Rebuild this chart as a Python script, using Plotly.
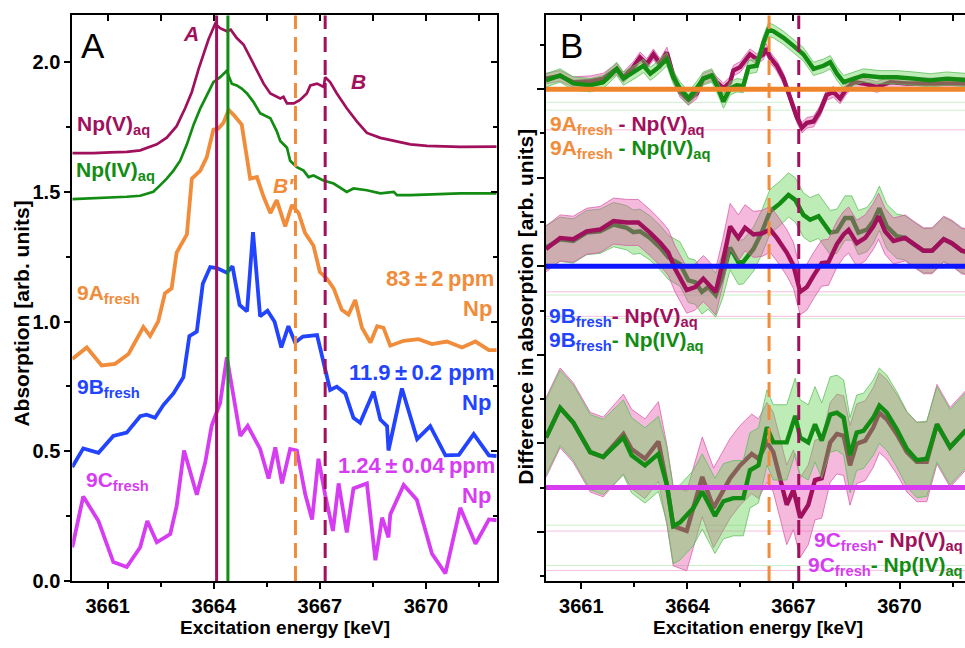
import plotly.graph_objects as go

# ---------------- Panel A data (energy in keV, absorption in arb. units) -------------
E_NpV = [3660.00, 3660.60, 3661.07, 3661.54, 3661.92, 3662.39, 3662.67, 3662.95, 3663.19, 3663.38,
         3663.57, 3663.72, 3663.85, 3664.04, 3664.18, 3664.37, 3664.48, 3664.65, 3664.84, 3665.03,
         3665.22, 3665.41, 3665.60, 3665.88, 3665.97, 3666.07, 3666.26, 3666.44, 3666.63, 3666.73,
         3666.92, 3667.11, 3667.15, 3667.29, 3667.48, 3667.76, 3668.05, 3668.33, 3668.71, 3669.09,
         3669.56, 3670.03, 3670.97, 3672.00]
A_NpV = [1.649, 1.649, 1.652, 1.654, 1.660, 1.683, 1.709, 1.753, 1.822, 1.885,
         1.973, 2.036, 2.087, 2.148, 2.131, 2.119, 2.125, 2.093, 2.068, 2.018,
         1.967, 1.917, 1.879, 1.860, 1.866, 1.841, 1.841, 1.854, 1.879, 1.910,
         1.917, 1.904, 1.942, 1.923, 1.879, 1.822, 1.771, 1.727, 1.708, 1.696,
         1.683, 1.677, 1.673, 1.674]

E_NpIV = [3660.00, 3660.60, 3661.07, 3661.54, 3661.92, 3662.29, 3662.48, 3662.67, 3662.86, 3663.05,
          3663.24, 3663.43, 3663.62, 3663.80, 3663.99, 3664.18, 3664.37, 3664.42, 3664.51, 3664.65,
          3664.79, 3664.94, 3665.12, 3665.31, 3665.60, 3665.78, 3665.88, 3666.07, 3666.16, 3666.35,
          3666.54, 3666.68, 3666.82, 3667.10, 3667.39, 3667.76, 3667.95, 3668.33, 3668.71, 3669.09,
          3669.18, 3669.56, 3670.03, 3670.97, 3672.00]
A_NpIV = [1.472, 1.475, 1.477, 1.481, 1.485, 1.500, 1.525, 1.551, 1.582, 1.620,
          1.683, 1.759, 1.822, 1.873, 1.923, 1.942, 1.967, 1.948, 1.917, 1.910,
          1.898, 1.879, 1.847, 1.803, 1.784, 1.734, 1.696, 1.670, 1.620, 1.595,
          1.582, 1.557, 1.563, 1.544, 1.532, 1.500, 1.513, 1.506, 1.494, 1.500,
          1.487, 1.487, 1.490, 1.494, 1.494]

E_9A = [3660.00, 3660.41, 3660.83, 3661.21, 3661.59, 3662.01, 3662.20, 3662.43, 3662.62, 3662.81,
        3662.95, 3663.24, 3663.38, 3663.62, 3663.80, 3663.99, 3664.13, 3664.27, 3664.42, 3664.56,
        3664.79, 3665.03, 3665.22, 3665.41, 3665.60, 3665.78, 3666.02, 3666.21, 3666.40, 3666.58,
        3666.82, 3667.00, 3667.20, 3667.39, 3667.62, 3667.81, 3668.00, 3668.19, 3668.43, 3668.62,
        3668.80, 3668.99, 3669.37, 3669.79, 3670.17, 3670.59, 3671.02, 3671.40, 3671.78, 3672.00]
A_9A = [0.856, 0.900, 0.831, 0.837, 0.875, 0.979, 0.944, 1.001, 1.109, 1.128,
        1.266, 1.336, 1.551, 1.582, 1.633, 1.740, 1.744, 1.765, 1.816, 1.797,
        1.759, 1.551, 1.557, 1.481, 1.418, 1.468, 1.367, 1.449, 1.418, 1.342,
        1.292, 1.191, 1.165, 1.128, 1.045, 1.027, 1.083, 0.976, 0.919, 0.982,
        0.976, 0.907, 0.926, 0.932, 0.913, 0.923, 0.900, 0.923, 0.890, 0.890]

E_9B = [3660.00, 3660.31, 3660.74, 3661.16, 3661.54, 3661.92, 3662.10, 3662.34, 3662.58, 3662.86,
        3663.14, 3663.31, 3663.52, 3663.69, 3663.90, 3664.09, 3664.37, 3664.53, 3664.73, 3664.94,
        3665.11, 3665.31, 3665.52, 3665.72, 3665.91, 3666.11, 3666.30, 3666.52, 3666.92, 3667.15,
        3667.29, 3667.48, 3667.72, 3667.95, 3668.14, 3668.52, 3668.71, 3668.90, 3668.94, 3669.32,
        3669.75, 3670.12, 3670.55, 3670.93, 3671.35, 3671.78, 3672.00]
A_9B = [0.439, 0.511, 0.494, 0.559, 0.572, 0.635, 0.641, 0.629, 0.679, 0.723,
        0.785, 0.944, 0.961, 1.146, 1.210, 1.206, 1.188, 1.213, 1.064, 1.039,
        1.345, 1.020, 1.042, 0.999, 0.900, 0.982, 0.919, 0.942, 0.948, 0.818,
        0.736, 0.749, 0.723, 0.629, 0.610, 0.730, 0.622, 0.597, 0.503, 0.742,
        0.547, 0.597, 0.484, 0.486, 0.566, 0.484, 0.481]

E_9C = [3660.00, 3660.31, 3660.74, 3661.16, 3661.54, 3661.92, 3662.12, 3662.39, 3662.77, 3662.95,
        3663.16, 3663.52, 3663.76, 3663.94, 3664.18, 3664.37, 3664.56, 3664.75, 3664.96, 3665.31,
        3665.55, 3665.74, 3665.93, 3666.16, 3666.35, 3666.59, 3666.78, 3666.96, 3667.15, 3667.37,
        3667.53, 3667.76, 3667.95, 3668.33, 3668.57, 3668.76, 3668.94, 3668.99, 3669.37, 3669.74,
        3670.17, 3670.55, 3670.97, 3671.40, 3671.78, 3672.00]
A_9C = [0.130, 0.326, 0.231, 0.073, 0.054, 0.130, 0.231, 0.149, 0.181, 0.288,
        0.503, 0.332, 0.458, 0.598, 0.686, 0.862, 0.711, 0.559, 0.598, 0.509,
        0.395, 0.515, 0.376, 0.509, 0.503, 0.332, 0.237, 0.471, 0.332, 0.193,
        0.376, 0.187, 0.357, 0.376, 0.080, 0.244, 0.168, 0.256, 0.370, 0.313,
        0.105, 0.029, 0.282, 0.143, 0.237, 0.234]

# feature energies (keV)
E_solid_V = 3664.08
E_solid_IV = 3664.40
E_dash_B2 = 3666.31
E_dash_B = 3667.15

# ---------------- Panel B data (differences, arb. units) -------------
base_A, base_B, base_C = 1.1, 0.7, 0.2

EA_V = [3660.00, 3660.40, 3660.77, 3661.25, 3661.62, 3662.00, 3662.19, 3662.47, 3662.66, 3662.85,
        3663.04, 3663.23, 3663.42, 3663.60, 3663.79, 3664.03, 3664.26, 3664.45, 3664.69, 3664.83,
        3665.02, 3665.21, 3665.30, 3665.49, 3665.77, 3665.96, 3666.15, 3666.22, 3666.34, 3666.53,
        3666.72, 3666.91, 3667.09, 3667.24, 3667.38, 3667.57, 3667.75, 3667.94, 3668.13, 3668.32,
        3668.51, 3668.70, 3668.98, 3669.36, 3669.74, 3670.21, 3670.68, 3671.06, 3671.43, 3671.81, 3672.00]
DA_V = [0.024, 0.030, 0.016, 0.018, 0.024, 0.046, 0.027, 0.050, 0.072, 0.057,
        0.079, 0.057, 0.083, 0.031, -0.006, -0.024, -0.010, 0.024, 0.031, 0.016,
        0.002, 0.016, 0.042, 0.050, 0.079, 0.068, 0.079, 0.092, 0.072, 0.053,
        0.024, -0.021, -0.062, -0.087, -0.076, -0.073, -0.050, -0.013, -0.006, -0.021,
        0.002, 0.016, 0.013, 0.005, 0.016, 0.013, 0.013, 0.013, 0.015, 0.013, 0.013]
EA_IV = [3660.00, 3660.40, 3660.77, 3661.25, 3661.62, 3662.00, 3662.19, 3662.57, 3662.76, 3662.95,
         3663.13, 3663.42, 3663.60, 3663.79, 3664.03, 3664.26, 3664.45, 3664.69, 3664.83, 3665.02,
         3665.21, 3665.40, 3665.58, 3665.73, 3665.96, 3666.15, 3666.29, 3666.43, 3666.72, 3667.00,
         3667.28, 3667.57, 3667.85, 3668.04, 3668.23, 3668.42, 3668.70, 3668.98, 3669.45, 3669.92,
         3670.40, 3670.87, 3671.34, 3671.81, 3672.00]
DA_IV = [0.020, 0.031, 0.013, 0.009, 0.016, 0.046, 0.024, 0.042, 0.053, 0.035,
         0.046, 0.068, 0.027, 0.002, -0.021, 0.002, 0.024, 0.031, 0.009, -0.028,
         0.002, 0.009, 0.007, 0.050, 0.053, 0.105, 0.135, 0.131, 0.116, 0.098,
         0.079, 0.046, 0.053, 0.061, 0.035, 0.016, 0.024, 0.031, 0.027, 0.027,
         0.024, 0.020, 0.024, 0.020, 0.020]

EB_V = [3660.00, 3660.40, 3660.77, 3661.15, 3661.53, 3661.91, 3662.28, 3662.61, 3662.94, 3663.23,
        3663.46, 3663.65, 3663.98, 3664.22, 3664.45, 3664.59, 3664.80, 3665.00, 3665.21, 3665.44,
        3665.63, 3665.87, 3666.10, 3666.34, 3666.53, 3666.81, 3667.00, 3667.19, 3667.38, 3667.57,
        3667.80, 3667.99, 3668.23, 3668.42, 3668.56, 3668.79, 3669.03, 3669.26, 3669.41, 3669.59,
        3669.83, 3670.16, 3670.40, 3670.68, 3670.92, 3671.25, 3671.48, 3671.76, 3672.00]
DB_V = [0.039, 0.064, 0.061, 0.079, 0.083, 0.102, 0.099, 0.099, 0.076, 0.053,
        0.031, -0.006, -0.054, -0.047, -0.028, -0.039, -0.058, 0.009, 0.090, 0.064,
        0.087, 0.072, 0.074, 0.083, 0.064, 0.031, 0.002, -0.058, -0.047, -0.021,
        0.007, 0.009, 0.050, 0.072, 0.082, 0.052, 0.064, 0.090, 0.113, 0.079,
        0.057, 0.064, 0.050, 0.035, 0.035, 0.061, 0.052, 0.035, 0.031]
EB_IV = [3660.00, 3660.40, 3660.77, 3661.15, 3661.53, 3661.91, 3662.28, 3662.47, 3662.66, 3662.94,
         3663.23, 3663.46, 3663.79, 3664.03, 3664.22, 3664.41, 3664.59, 3664.80, 3665.00, 3665.21,
         3665.44, 3665.58, 3665.87, 3666.10, 3666.34, 3666.62, 3666.86, 3667.05, 3667.28, 3667.47,
         3667.71, 3668.04, 3668.23, 3668.46, 3668.65, 3668.84, 3669.08, 3669.26, 3669.43, 3669.64,
         3669.92, 3670.16, 3670.40, 3670.68, 3670.92, 3671.25, 3671.48, 3671.76, 3672.00]
DB_IV = [0.042, 0.061, 0.057, 0.076, 0.079, 0.094, 0.087, 0.077, 0.079, 0.064,
         0.042, 0.020, 0.005, -0.032, -0.036, -0.058, -0.047, -0.065, -0.021, 0.042,
         0.009, 0.010, 0.039, 0.076, 0.124, 0.142, 0.161, 0.150, 0.116, 0.105,
         0.113, 0.076, 0.079, 0.109, 0.109, 0.076, 0.083, 0.102, 0.131, 0.090,
         0.068, 0.064, 0.050, 0.035, 0.035, 0.061, 0.052, 0.035, 0.031]

EC_V = [3660.00, 3660.40, 3660.77, 3661.25, 3661.62, 3662.19, 3662.42, 3662.80, 3663.18, 3663.42,
        3663.60, 3663.98, 3664.42, 3664.74, 3665.21, 3665.49, 3665.82, 3666.01, 3666.25, 3666.43,
        3666.62, 3666.81, 3667.00, 3667.19, 3667.42, 3667.61, 3667.80, 3668.04, 3668.23, 3668.42,
        3668.60, 3668.79, 3669.03, 3669.26, 3669.43, 3669.64, 3669.92, 3670.21, 3670.49, 3670.77,
        3671.06, 3671.43, 3671.86, 3672.00]
DC_V = [0.113, 0.180, 0.147, 0.080, 0.069, 0.121, 0.087, 0.065, 0.104, 0.006,
        -0.087, -0.098, 0.024, -0.046, 0.021, 0.050, 0.076, 0.065, 0.102, 0.080,
        0.021, -0.039, -0.005, -0.068, -0.039, 0.017, 0.021, 0.102, 0.121, 0.117,
        0.050, 0.099, 0.106, 0.136, 0.169, 0.154, 0.121, 0.080, 0.058, 0.058,
        0.143, 0.091, 0.128, 0.135]
EC_IV = [3660.00, 3660.40, 3660.77, 3661.25, 3661.62, 3662.19, 3662.42, 3662.80, 3663.18, 3663.42,
         3663.60, 3663.79, 3664.17, 3664.42, 3664.78, 3665.02, 3665.30, 3665.58, 3665.77, 3666.01,
         3666.25, 3666.43, 3666.81, 3667.05, 3667.19, 3667.42, 3667.61, 3667.80, 3668.04, 3668.23,
         3668.42, 3668.60, 3668.79, 3668.98, 3669.26, 3669.43, 3669.64, 3669.92, 3670.21, 3670.49,
         3670.77, 3671.06, 3671.43, 3671.86, 3672.00]
DC_IV = [0.113, 0.180, 0.147, 0.080, 0.069, 0.113, 0.073, 0.050, 0.076, 0.006,
         -0.087, -0.079, -0.046, -0.009, -0.064, -0.031, -0.024, -0.024, 0.039, 0.050,
         0.136, 0.102, 0.102, 0.162, 0.113, 0.102, 0.143, 0.106, 0.165, 0.169,
         0.158, 0.073, 0.124, 0.128, 0.158, 0.185, 0.169, 0.132, 0.087, 0.062,
         0.065, 0.143, 0.091, 0.128, 0.135]

# half widths of the uncertainty bands
ERR_A_V, ERR_A_IV = 0.012, 0.015
ERR_B_V, ERR_B_IV = 0.052, 0.050
ERR_C_V, ERR_C_IV = 0.090, 0.085

# faint horizontal guide lines seen in panel B
HL_green = [1.0704, 1.0527, 0.6349, 0.5816, 0.1149, 0.0238]
HL_pink = [1.0082, 0.6422, 0.5867, 0.1016, 0.0127]

# ---------------- styling ----------------
W, H = 965, 648
FONT = "Liberation Sans, Arial, sans-serif"
C_V = "#A0105C"
C_IV = "#128C12"
C_A = "#F08C3A"
C_B = "#2244FF"
C_C = "#D63CF2"
C_BASE_A = "#F0842A"
C_BASE_B = "#0A14FF"
C_BASE_C = "#D83CF0"
PINK_FILL = "rgba(230,80,170,0.40)"
PINK_EDGE = "rgba(215,90,165,0.75)"
GREEN_FILL = "rgba(100,210,80,0.42)"
GREEN_EDGE = "rgba(90,190,90,0.75)"


def px(x):
    return x / W


def py(y):
    return 1 - y / H


fig = go.Figure()

# Panel A curves
for E, A, col, w in [(E_NpV, A_NpV, C_V, 2.7), (E_NpIV, A_NpIV, C_IV, 2.7),
                     (E_9A, A_9A, C_A, 3.8), (E_9B, A_9B, C_B, 3.8), (E_9C, A_9C, C_C, 3.8)]:
    fig.add_trace(go.Scatter(x=E, y=A, mode="lines", line=dict(color=col, width=w),
                             xaxis="x", yaxis="y", showlegend=False, hoverinfo="skip"))


def band(E, D, base, err, fill, edge):
    lo = [base + d - err for d in D]
    hi = [base + d + err for d in D]
    fig.add_trace(go.Scatter(x=E, y=lo, mode="lines", line=dict(color=edge, width=1),
                             xaxis="x2", yaxis="y2", showlegend=False, hoverinfo="skip"))
    fig.add_trace(go.Scatter(x=E, y=hi, mode="lines", line=dict(color=edge, width=1),
                             fill="tonexty", fillcolor=fill,
                             xaxis="x2", yaxis="y2", showlegend=False, hoverinfo="skip"))


def line(E, D, base, col):
    fig.add_trace(go.Scatter(x=E, y=[base + d for d in D], mode="lines",
                             line=dict(color=col, width=4.4),
                             xaxis="x2", yaxis="y2", showlegend=False, hoverinfo="skip"))


# group A: pink band, maroon line, green band, green line
band(EA_V, DA_V, base_A, ERR_A_V, PINK_FILL, PINK_EDGE)
line(EA_V, DA_V, base_A, C_V)
band(EA_IV, DA_IV, base_A, ERR_A_IV, GREEN_FILL, GREEN_EDGE)
line(EA_IV, DA_IV, base_A, C_IV)
# group B: green first, pink on top
band(EB_IV, DB_IV, base_B, ERR_B_IV, GREEN_FILL, GREEN_EDGE)
line(EB_IV, DB_IV, base_B, C_IV)
band(EB_V, DB_V, base_B, ERR_B_V, PINK_FILL, PINK_EDGE)
line(EB_V, DB_V, base_B, C_V)
# group C: pink first, green on top
band(EC_V, DC_V, base_C, ERR_C_V, PINK_FILL, PINK_EDGE)
line(EC_V, DC_V, base_C, C_V)
band(EC_IV, DC_IV, base_C, ERR_C_IV, GREEN_FILL, GREEN_EDGE)
line(EC_IV, DC_IV, base_C, C_IV)

# dummy traces for mirrored (inside-tick) axes
fig.add_trace(go.Scatter(x=[None], y=[None], xaxis="x3", yaxis="y3", showlegend=False, hoverinfo="skip"))
fig.add_trace(go.Scatter(x=[None], y=[None], xaxis="x4", yaxis="y2", showlegend=False, hoverinfo="skip"))

shapes = []
# Panel A vertical markers
shapes.append(dict(type="line", xref="x", yref="y domain", x0=E_solid_V, x1=E_solid_V, y0=0, y1=1,
                   line=dict(color=C_V, width=3)))
shapes.append(dict(type="line", xref="x", yref="y domain", x0=E_solid_IV, x1=E_solid_IV, y0=0, y1=1,
                   line=dict(color=C_IV, width=3)))
for xa in ["x", "x2"]:
    ya = "y domain" if xa == "x" else "y2 domain"
    shapes.append(dict(type="line", xref=xa, yref=ya, x0=E_dash_B2, x1=E_dash_B2, y0=0, y1=1,
                       line=dict(color=C_A, width=3, dash="15px,8px")))
    shapes.append(dict(type="line", xref=xa, yref=ya, x0=E_dash_B, x1=E_dash_B, y0=0, y1=1,
                       line=dict(color=C_V, width=3, dash="15px,8px")))
# faint guide lines
for v in HL_green:
    shapes.append(dict(type="line", xref="x2 domain", yref="y2", x0=0, x1=1, y0=v, y1=v, layer="below",
                       line=dict(color="rgba(140,220,140,0.45)", width=1)))
for v in HL_pink:
    shapes.append(dict(type="line", xref="x2 domain", yref="y2", x0=0, x1=1, y0=v, y1=v, layer="below",
                       line=dict(color="rgba(240,140,200,0.55)", width=1)))
# baselines of panel B
for v, col in [(base_A, C_BASE_A), (base_B, C_BASE_B), (base_C, C_BASE_C)]:
    shapes.append(dict(type="line", xref="x2 domain", yref="y2", x0=0, x1=1, y0=v, y1=v,
                       line=dict(color=col, width=5)))

anns = []


def ann(x, y, text, color="black", size=21, xanchor="left", bold=True, angle=0):
    anns.append(dict(x=px(x), y=py(y), xref="paper", yref="paper", text=text, showarrow=False,
                     xanchor=xanchor, yanchor="middle", textangle=angle,
                     font=dict(family=FONT, size=size, color=color,
                               weight="bold" if bold else "normal")))


# panel letters
ann(93, 46, "A", size=35, xanchor="center", bold=False)
ann(571, 46, "B", size=35, xanchor="center", bold=False)
# feature labels
ann(191, 34, "<i>A</i>", C_V, 21, "center")
ann(358, 83, "<i>B</i>", C_V, 21, "center")
ann(283, 189, "<i>B′</i>", C_A, 21, "center")
# curve labels panel A
ann(75, 127, "Np(V)<sub>aq</sub>", C_V, 21)
ann(74, 174, "Np(IV)<sub>aq</sub>", C_IV, 21)
ann(75, 299, "9A<sub>fresh</sub>", C_A, 21)
ann(496, 283, "83\u2009±\u20092\u2009ppm", C_A, 22, xanchor="right")
ann(494, 314, "Np", C_A, 22, xanchor="right")
ann(75, 395, "9B<sub>fresh</sub>", C_B, 21)
ann(497, 379, "11.9\u2009±\u20090.2 ppm", C_B, 22, xanchor="right")
ann(493, 409, "Np", C_B, 22, xanchor="right")
ann(84, 489, "9C<sub>fresh</sub>", C_C, 21)
ann(497, 474, "1.24\u2009±\u20090.04\u2009ppm", C_C, 22, xanchor="right")
ann(493, 504, "Np", C_C, 22, xanchor="right")


def sp(t, c):
    return f"<span style='color:{c}'>{t}</span>"


# panel B labels
ann(548, 127, sp("9A<sub>fresh</sub>", C_A) + " - " + sp("Np(V)<sub>aq</sub>", C_V), C_V, 21)
ann(548, 152, sp("9A<sub>fresh</sub>", C_A) + " - " + sp("Np(IV)<sub>aq</sub>", C_IV), C_IV, 21)
ann(547, 322, sp("9B<sub>fresh</sub>", C_B) + "- " + sp("Np(V)<sub>aq</sub>", C_V), C_V, 21)
ann(547, 347, sp("9B<sub>fresh</sub>", C_B) + "- " + sp("Np(IV)<sub>aq</sub>", C_IV), C_IV, 21)
ann(812, 550, sp("9C<sub>fresh</sub>", C_C) + "- " + sp("Np(V)<sub>aq</sub>", C_V), C_V, 21)
ann(806, 576, sp("9C<sub>fresh</sub>", C_C) + "- " + sp("Np(IV)<sub>aq</sub>", C_IV), C_IV, 21)
# axis titles
ann(22, 319, "Absorption [arb. units]", size=21, xanchor="center", angle=-90)
ann(526, 312, "Difference in absorption [arb. units]", size=21, xanchor="center", angle=-90)
ann(284.5, 638, "Excitation energy [keV]", size=19, xanchor="center")
ann(758, 638, "Excitation energy [keV]", size=19, xanchor="center")

tickfont = dict(family=FONT, size=20, color="black", weight="bold")
xA_dom = [px(72.3), px(496.7)]
xB_dom = [px(546), 1.0]
y_dom = [py(591), py(15.7)]
xA_rng = [3660, 3672]
xB_rng = [3660, 3660 + (W - 546) / 35.35]
common_x = dict(tickmode="linear", tick0=3661, dtick=3, showgrid=False, zeroline=False,
                showline=True, linecolor="black", linewidth=2, tickcolor="black", tickwidth=2)

fig.update_layout(
    width=W, height=H, margin=dict(l=0, r=0, t=0, b=0),
    paper_bgcolor="white", plot_bgcolor="white", showlegend=False,
    xaxis=dict(domain=xA_dom, range=xA_rng, anchor="y", ticks="outside", ticklen=6,
               tickfont=tickfont, minor=dict(tick0=3661, dtick=1.5, ticks="outside", ticklen=4,
                                             tickwidth=2, tickcolor="black"), **common_x),
    xaxis3=dict(domain=xA_dom, range=xA_rng, anchor="y", overlaying="x", side="top", ticks="inside",
                ticklen=6, showticklabels=False,
                minor=dict(tick0=3661, dtick=1.5, ticks="inside", ticklen=6, tickwidth=2, tickcolor="black"),
                **common_x),
    yaxis=dict(domain=y_dom, range=[0, 2.18], anchor="x", tickmode="linear", tick0=0, dtick=0.5,
               tickformat=".1f", ticks="outside", ticklen=6, tickwidth=2, tickcolor="black",
               tickfont=tickfont, showgrid=False, zeroline=False, showline=True, linecolor="black",
               linewidth=2,
               minor=dict(tick0=0, dtick=0.25, ticks="outside", ticklen=4, tickwidth=2, tickcolor="black")),
    yaxis3=dict(domain=y_dom, range=[0, 2.18], anchor="x", overlaying="y", side="right",
                tickmode="linear", tick0=0, dtick=0.5, ticks="inside", ticklen=6, tickwidth=2,
                tickcolor="black", showticklabels=False, showgrid=False, zeroline=False,
                showline=True, linecolor="black", linewidth=2,
                minor=dict(tick0=0, dtick=0.25, ticks="inside", ticklen=4, tickwidth=2, tickcolor="black")),
    xaxis2=dict(domain=xB_dom, range=xB_rng, anchor="y2", ticks="outside", ticklen=6,
                tickfont=tickfont, minor=dict(tick0=3661, dtick=1.5, ticks="outside", ticklen=4,
                                              tickwidth=2, tickcolor="black"), **common_x),
    xaxis4=dict(domain=xB_dom, range=xB_rng, anchor="y2", overlaying="x2", side="top", ticks="inside",
                ticklen=6, showticklabels=False,
                minor=dict(tick0=3661, dtick=1.5, ticks="inside", ticklen=6, tickwidth=2, tickcolor="black"),
                **common_x),
    yaxis2=dict(domain=y_dom, range=[-0.0111, 1.2667], anchor="x2", tickmode="linear", tick0=0.1,
                dtick=0.2, ticks="outside", ticklen=7, tickwidth=2, tickcolor="black",
                showticklabels=False, showgrid=False, zeroline=False, showline=True,
                linecolor="black", linewidth=2,
                minor=dict(tick0=0, dtick=0.1, ticks="outside", ticklen=4, tickwidth=2, tickcolor="black")),
    shapes=shapes,
    annotations=anns,
)

fig.write_html("out.html", config={"displayModeBar": False},
               post_script="document.body.style.margin='0px';document.body.style.overflow='hidden';")
